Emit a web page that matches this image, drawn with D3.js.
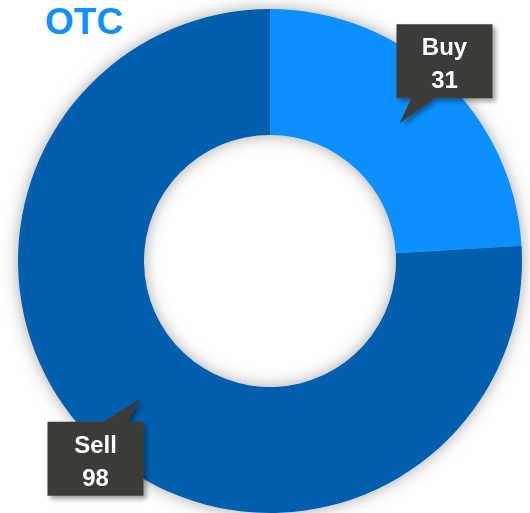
<!DOCTYPE html>
<html>
<head>
<meta charset="utf-8">
<script src="https://cdn.jsdelivr.net/npm/d3@7"></script>
<style>
  html, body { margin: 0; padding: 0; background: #fff; }
  svg { display: block; }
  text { font-family: "Liberation Sans", Arial, sans-serif; font-weight: bold; }
</style>
</head>
<body>
<svg class="chart"></svg>
<script>
// chart values
var categories = ['Buy', 'Sell'];
var values = [31, 98];
var colors = ['#1190fe', '#055fad'];
var title = 'OTC';

function show() {
    'use strict';

    var width = 530, height = 513;
    var cx = 270, cy = 261;
    var outerR = 252, innerR = 126;

    var svg = d3.select('.chart')
        .attr('width', width)
        .attr('height', height);

    // soft shadows for the ring and the callouts
    var defs = svg.append('defs');
    var ringShadow = defs.append('filter').attr('id', 'ringShadow')
        .attr('x', '-20%').attr('y', '-20%').attr('width', '140%').attr('height', '140%');
    ringShadow.append('feDropShadow')
        .attr('dx', 0).attr('dy', 0).attr('stdDeviation', 8)
        .attr('flood-color', '#000').attr('flood-opacity', 0.35);

    var boxShadow = defs.append('filter').attr('id', 'boxShadow')
        .attr('x', '-30%').attr('y', '-30%').attr('width', '160%').attr('height', '160%');
    boxShadow.append('feDropShadow')
        .attr('dx', 3).attr('dy', 3).attr('stdDeviation', 2.5)
        .attr('flood-color', '#000').attr('flood-opacity', 0.4);

    var data = categories.map(function (c, i) {
        return { name: c, value: values[i], color: colors[i] };
    });

    var pie = d3.pie()
        .sort(null)
        .value(function (d) { return d.value; });

    var arc = d3.arc()
        .innerRadius(innerR)
        .outerRadius(outerR);

    var chart = svg.append('g')
        .attr('transform', 'translate(' + cx + ',' + cy + ')');

    var arcs = pie(data);

    chart.append('g')
        .attr('filter', 'url(#ringShadow)')
        .selectAll('path')
        .data(arcs)
        .enter()
        .append('path')
        .attr('d', arc)
        .attr('fill', function (d) { return d.data.color; });

    // title, kept just inside the top edge
    svg.append('text')
        .attr('x', 45)
        .attr('y', 34)
        .attr('fill', colors[0])
        .style('font-size', '37px')
        .text(title);

    // callout labels pointing at each slice centroid
    var boxW = 96, boxH = 74, gap = 25;

    var labels = chart.selectAll('g.callout').data(arcs)
        .enter()
        .append('g')
        .attr('class', 'callout')
        .attr('filter', 'url(#boxShadow)');

    labels.each(function (d) {
        var g = d3.select(this);
        var c = arc.centroid(d);
        var right = c[0] > 0;
        var x0 = right ? c[0] - 3 : c[0] - boxW + 3;
        var y0 = right ? c[1] - gap - boxH : c[1] + gap - 2;
        var baseY = right ? y0 + boxH : y0;
        var b1 = right ? c[0] + 12 : c[0] - 37;
        var b2 = right ? c[0] + 35 : c[0] - 13;

        var path = d3.path();
        path.moveTo(x0, y0);
        path.lineTo(x0 + boxW, y0);
        path.lineTo(x0 + boxW, y0 + boxH);
        path.lineTo(x0, y0 + boxH);
        path.closePath();
        path.moveTo(b1, baseY);
        path.lineTo(c[0], c[1]);
        path.lineTo(b2, baseY);
        path.closePath();

        g.append('path')
            .attr('d', path.toString())
            .attr('fill', '#3c3b39');

        g.append('text')
            .attr('x', x0 + boxW / 2)
            .attr('y', y0 + 31)
            .attr('text-anchor', 'middle')
            .attr('fill', '#fff')
            .style('font-size', '24px')
            .text(d.data.name);

        g.append('text')
            .attr('x', x0 + boxW / 2)
            .attr('y', y0 + 64)
            .attr('text-anchor', 'middle')
            .attr('fill', '#fff')
            .style('font-size', '24px')
            .text(d.data.value);
    });
}

show();
</script>
</body>
</html>
